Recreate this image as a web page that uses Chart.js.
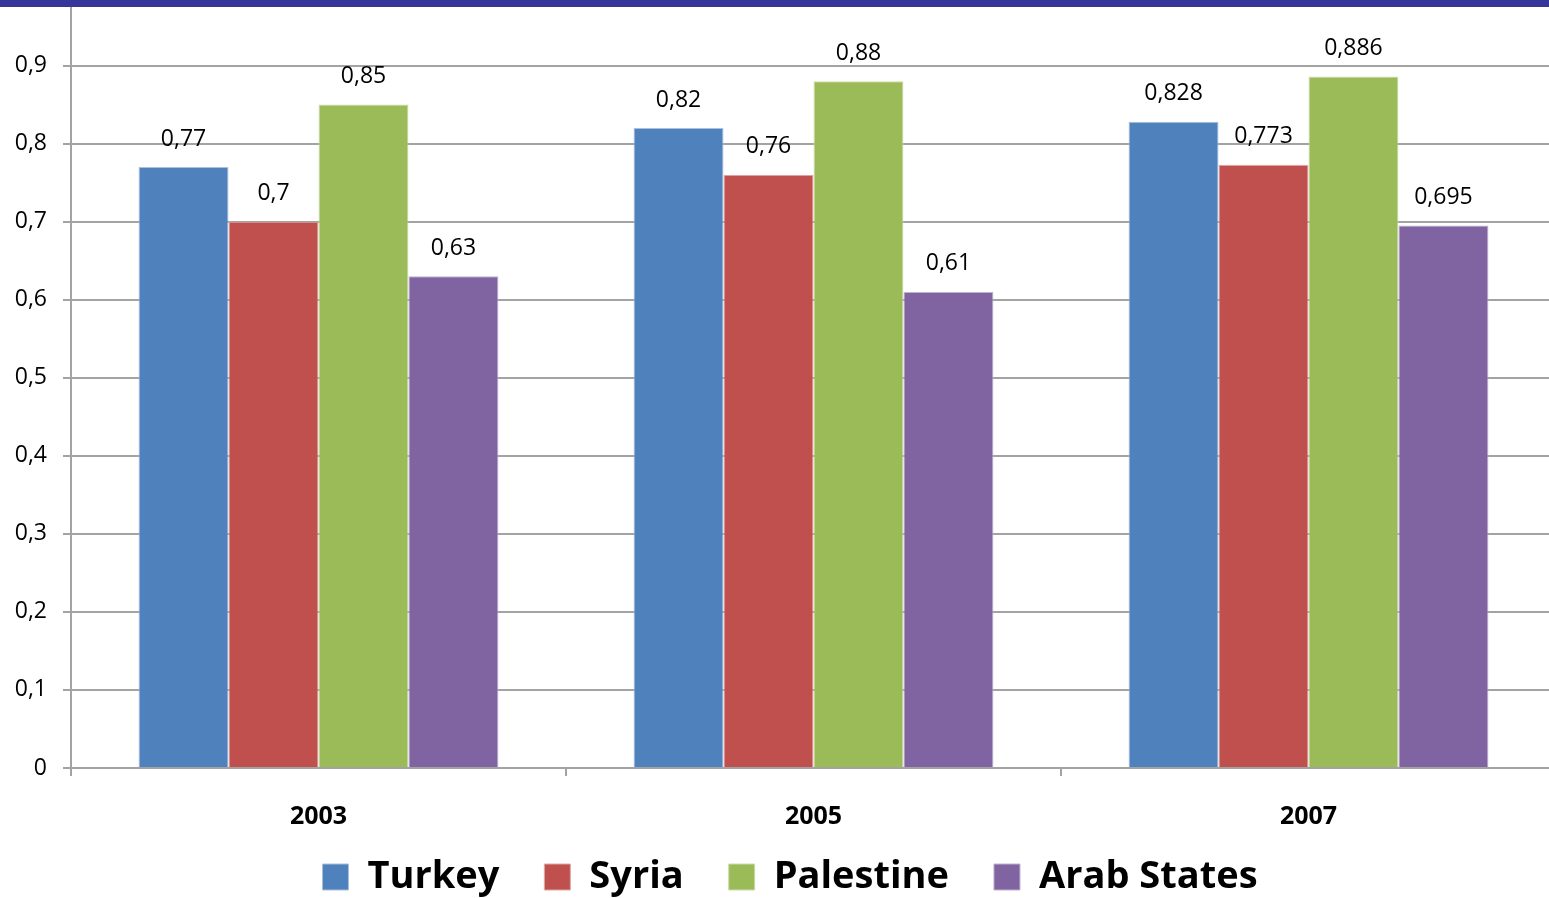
<!DOCTYPE html>
<html>
<head>
<meta charset="utf-8">
<script src="https://cdn.jsdelivr.net/npm/chart.js@4/dist/chart.umd.min.js"></script>
<style>
    body { margin: 0; overflow: hidden; background: #fff; }
    .band { height: 7px; background: #35359a; }
    #myChart { display: block; }
</style>
</head>
<body>
<div class="band"></div>
<canvas id="myChart" width="1556" height="924"></canvas>
<script>
const years = ['2003', '2005', '2007'];
const turkey = [0.77, 0.82, 0.828];
const syria = [0.7, 0.76, 0.773];
const palestine = [0.85, 0.88, 0.886];
const arabStates = [0.63, 0.61, 0.695];
const yTicks = [0, 0.1, 0.2, 0.3, 0.4, 0.5, 0.6, 0.7, 0.8, 0.9];

const gridColor = '#a3a3a3';

function comma(v) {
    return String(v).replace('.', ',');
}

// value labels above each bar
const barLabels = {
    id: 'barLabels',
    afterDatasetsDraw(chart) {
        const ctx = chart.ctx;
        ctx.save();
        ctx.font = '23px "Open Sans"';
        ctx.fillStyle = '#000';
        ctx.textAlign = 'center';
        ctx.textBaseline = 'middle';
        chart.data.datasets.forEach((ds, i) => {
            chart.getDatasetMeta(i).data.forEach((bar, j) => {
                ctx.fillText(comma(ds.data[j]), bar.x, bar.y - 28);
            });
        });
        ctx.restore();
    }
};

// pull the legend up closer to the year labels, a little to the right
const legendNudge = {
    id: 'legendNudge',
    afterLayout(chart) {
        chart.legend.top -= 25;
        chart.legend.bottom -= 25;
        chart.legend.left += 12;
        chart.legend.right += 12;
    }
};

const ctx = document.getElementById('myChart').getContext('2d');
const chart = new Chart(ctx, {
    type: 'bar',
    data: {
        labels: years,
        datasets: [
            { label: 'Turkey', data: turkey, backgroundColor: '#4f81bd', borderColor: '#a9c0de' },
            { label: 'Syria', data: syria, backgroundColor: '#c0504d', borderColor: '#dfa8a6' },
            { label: 'Palestine', data: palestine, backgroundColor: '#9bbb59', borderColor: '#cddcac' },
            { label: 'Arab States', data: arabStates, backgroundColor: '#8064a2', borderColor: '#bfb1d0' }
        ]
    },
    options: {
        responsive: false,
        animation: false,
        datasets: {
            bar: {
                borderWidth: 1,
                barPercentage: 1,
                categoryPercentage: 0.727
            }
        },
        layout: { padding: 0 },
        scales: {
            x: {
                offset: true,
                grid: {
                    drawOnChartArea: false,
                    drawTicks: true,
                    tickLength: 8,
                    color: gridColor,
                    lineWidth: 2
                },
                border: { color: gridColor, width: 2 },
                ticks: {
                    color: '#000',
                    font: { family: 'Open Sans', size: 25, weight: 'bold' },
                    padding: 26
                },
                afterFit(scale) {
                    scale.height = 70;
                }
            },
            y: {
                min: 0,
                max: 0.975,
                afterBuildTicks(scale) {
                    scale.ticks = yTicks.map(v => ({ value: v }));
                },
                grid: {
                    color: gridColor,
                    lineWidth: 2,
                    tickLength: 8
                },
                border: { color: gridColor, width: 2 },
                ticks: {
                    color: '#000',
                    font: { family: 'Open Sans', size: 23 },
                    padding: 16,
                    callback: v => v === 0 ? '0' : v.toFixed(1).replace('.', ',')
                },
                afterFit(scale) {
                    scale.width = 71;
                    scale.paddingTop = 0;
                    scale.paddingBottom = 0;
                }
            }
        },
        plugins: {
            legend: {
                position: 'bottom',
                labels: {
                    color: '#000',
                    boxWidth: 26,
                    boxHeight: 26,
                    padding: 45,
                    font: { family: 'Open Sans', size: 38, weight: 'bold' }
                }
            },
            tooltip: { enabled: false }
        }
    },
    plugins: [barLabels, legendNudge]
});
</script>
</body>
</html>
